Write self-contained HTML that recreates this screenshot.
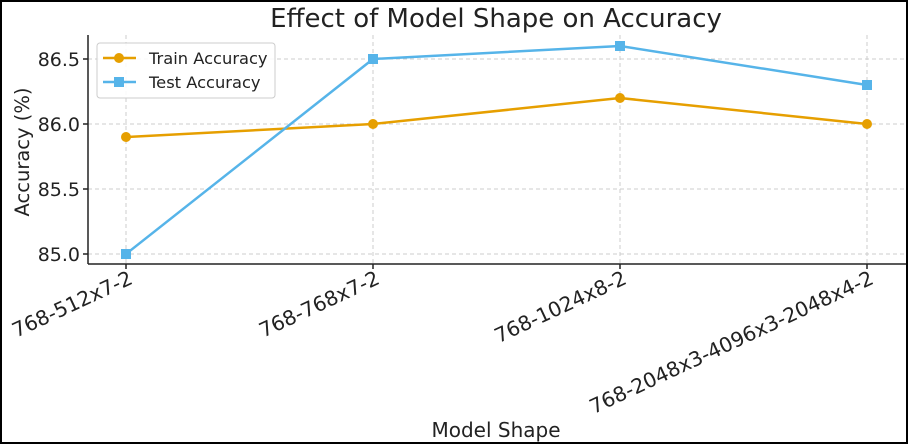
<!DOCTYPE html>
<html><head><style>body{margin:0;background:#fff}svg{display:block}text{font-family:"DejaVu Sans","Liberation Sans",sans-serif;fill:#222}</style></head>
<body>
<svg width="909" height="445" viewBox="0 0 909 445">
<rect x="1" y="1" width="906" height="442" fill="#fff" stroke="#000" stroke-width="2"/>
<text x="496" y="27" font-size="26" text-anchor="middle">Effect of Model Shape on Accuracy</text>
<g stroke="#ccc" stroke-dasharray="4,3" stroke-width="1">
<line x1="126" y1="35" x2="126" y2="264"/><line x1="373" y1="35" x2="373" y2="264"/>
<line x1="620" y1="35" x2="620" y2="264"/><line x1="867" y1="35" x2="867" y2="264"/>
<line x1="88" y1="59" x2="906" y2="59"/><line x1="88" y1="124" x2="906" y2="124"/>
<line x1="88" y1="189" x2="906" y2="189"/><line x1="88" y1="254" x2="906" y2="254"/>
</g>
<g stroke="#222" stroke-width="1.5">
<line x1="88" y1="35" x2="88" y2="264"/><line x1="88" y1="264" x2="906" y2="264"/>
<line x1="83" y1="59" x2="88" y2="59"/><line x1="83" y1="124" x2="88" y2="124"/>
<line x1="83" y1="189" x2="88" y2="189"/><line x1="83" y1="254" x2="88" y2="254"/>
<line x1="126" y1="264" x2="126" y2="269"/><line x1="373" y1="264" x2="373" y2="269"/>
<line x1="620" y1="264" x2="620" y2="269"/><line x1="867" y1="264" x2="867" y2="269"/>
</g>
<g font-size="19" text-anchor="end">
<text x="80" y="66">86.5</text><text x="80" y="131">86.0</text>
<text x="80" y="196">85.5</text><text x="80" y="261">85.0</text>
</g>
<g font-size="20.3" text-anchor="end">
<text transform="translate(134,283) rotate(-25)">768-512x7-2</text>
<text transform="translate(381,283) rotate(-25)">768-768x7-2</text>
<text transform="translate(628,283) rotate(-25)">768-1024x8-2</text>
<text transform="translate(875,283) rotate(-25)">768-2048x3-4096x3-2048x4-2</text>
</g>
<text x="496" y="437" font-size="20" text-anchor="middle">Model Shape</text>
<text transform="translate(29,152) rotate(-90)" font-size="19.5" text-anchor="middle">Accuracy (%)</text>
<polyline points="126,137 373,124 620,98 867,124" fill="none" stroke="#E69F00" stroke-width="2.5"/>
<g fill="#E69F00"><circle cx="126" cy="137" r="5"/><circle cx="373" cy="124" r="5"/><circle cx="620" cy="98" r="5"/><circle cx="867" cy="124" r="5"/></g>
<polyline points="126,254 373,59 620,46 867,85" fill="none" stroke="#56B4E9" stroke-width="2.5"/>
<g fill="#56B4E9"><rect x="121" y="249" width="10" height="10"/><rect x="368" y="54" width="10" height="10"/><rect x="615" y="41" width="10" height="10"/><rect x="862" y="80" width="10" height="10"/></g>
<rect x="97" y="43" width="178" height="55" rx="3" fill="#fff" fill-opacity="0.85" stroke="#ccc"/>
<line x1="103" y1="58" x2="136" y2="58" stroke="#E69F00" stroke-width="2.5"/><circle cx="119" cy="58" r="5" fill="#E69F00"/>
<line x1="103" y1="82" x2="136" y2="82" stroke="#56B4E9" stroke-width="2.5"/><rect x="114" y="77" width="10" height="10" fill="#56B4E9"/>
<text x="149" y="64" font-size="16.3">Train Accuracy</text>
<text x="149" y="88" font-size="16.3">Test Accuracy</text>
</svg>
</body></html>
